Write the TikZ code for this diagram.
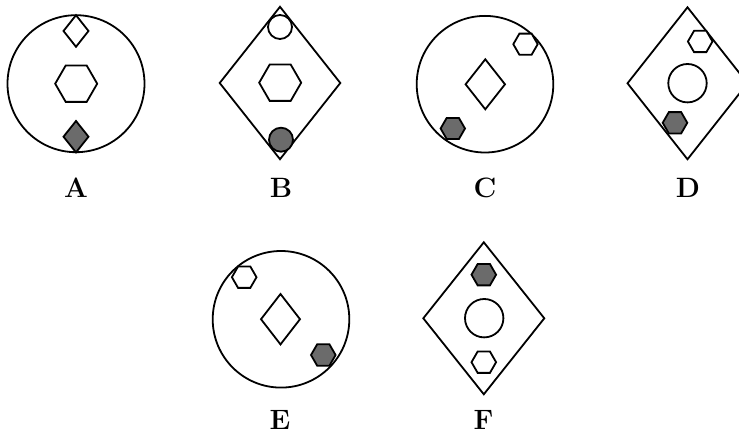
\documentclass[tikz,border=0pt]{standalone}
\usepackage{fontspec}
\usetikzlibrary{calc}
\definecolor{shadegray}{HTML}{6B6B6B}
\tikzset{
  outl/.style={draw=black,line width=1.8pt,line join=miter},
  lab/.style={font=\fontsize{28}{28}\selectfont\bfseries,inner sep=0pt,anchor=base}
}
\newcommand{\myhexa}[4]{\draw[outl,fill=#4] (#1,#2) ++(0:#3) -- ++(120:#3) -- ++(180:#3) -- ++(240:#3) -- ++(300:#3) -- ++(0:#3) -- cycle;}
\newcommand{\mydiam}[5]{\draw[outl,fill=#5] ({#1-#3},#2) -- (#1,{#2-#4}) -- ({#1+#3},#2) -- (#1,{#2+#4}) -- cycle;}
\begin{document}
\begin{tikzpicture}[x=1pt,y=-1pt]
\useasboundingbox (0,0) rectangle (739,435);
\clip (0,0) rectangle (739,435);
% A
\draw[outl] (76,83.7) circle (68.5);
\mydiam{76}{31}{12.5}{15.8}{white}
\myhexa{76.2}{83.7}{21}{white}
\mydiam{76}{136.7}{12.5}{15.7}{shadegray}
\node[lab] (la) at (76,197.5) {A};
% B
\mydiam{280}{83}{60.3}{76.2}{white}
\draw[outl] (280,27) circle (12);
\myhexa{280.2}{82.7}{21}{white}
\draw[outl,fill=shadegray] (281,139.7) circle (12);
\node[lab] (lb) at (281,197.5) {B};
% C
\draw[outl] (485,84.2) circle (68.3);
\mydiam{485.3}{84.3}{19.7}{25}{white}
\myhexa{525.5}{44.2}{12.2}{white}
\myhexa{452.8}{128.5}{12.2}{shadegray}
\node[lab] (lc) at (485,197.5) {C};
% D
\mydiam{687.5}{83.3}{60}{76}{white}
\myhexa{700.2}{41.5}{12.3}{white}
\draw[outl] (687.5,83.2) circle (19.2);
\myhexa{675}{122.8}{12.3}{shadegray}
\node[lab] (ld) at (688,197.5) {D};
% E
\draw[outl] (281,319.3) circle (68.3);
\myhexa{244.2}{277.2}{12.3}{white}
\mydiam{280.5}{319.2}{19.5}{25.2}{white}
\myhexa{323.3}{355}{12.3}{shadegray}
\node[lab] (le) at (280,430) {E};
% F
\mydiam{483.8}{318.3}{60.5}{76}{white}
\myhexa{483.8}{274.7}{12.3}{shadegray}
\draw[outl] (484.2,318.2) circle (19.2);
\myhexa{483.8}{362.2}{12.3}{white}
\node[lab] (lf) at (483.5,430) {F};
\end{tikzpicture}
\end{document}
